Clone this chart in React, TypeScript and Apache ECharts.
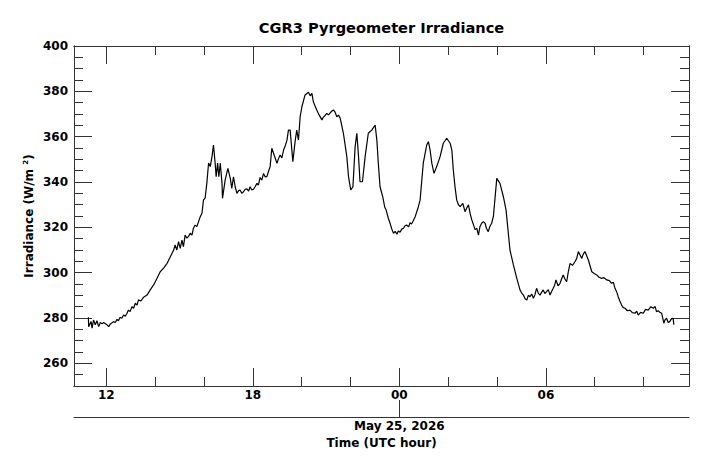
import React, { useEffect, useRef } from "react";
import * as echarts from "echarts";

// Hours since May 24, 2026 00:00 UTC
const timeHours = [
  11.27, 11.28, 11.38, 11.42, 11.48, 11.55, 11.62, 11.69, 11.76, 11.83, 11.89, 12.03, 12.10, 12.17, 12.30, 12.37,
  12.44, 12.50, 12.57, 12.64, 12.71, 12.78, 12.85, 12.91, 12.98, 13.05, 13.12, 13.19, 13.26, 13.32, 13.42, 13.53,
  13.67, 13.80, 13.94, 14.08, 14.21, 14.35, 14.49, 14.60, 14.69, 14.76, 14.82, 14.89, 14.96, 15.03, 15.10, 15.16,
  15.23, 15.30, 15.37, 15.44, 15.51, 15.57, 15.64, 15.71, 15.78, 15.85, 15.92, 15.98, 16.05, 16.12, 16.19, 16.26,
  16.33, 16.39, 16.46, 16.50, 16.56, 16.61, 16.67, 16.74, 16.76, 16.87, 16.98, 17.08, 17.14, 17.21, 17.28, 17.35,
  17.42, 17.48, 17.55, 17.62, 17.69, 17.76, 17.83, 17.89, 17.96, 18.03, 18.10, 18.17, 18.23, 18.30, 18.37, 18.44,
  18.51, 18.58, 18.64, 18.71, 18.78, 18.85, 18.92, 18.99, 19.05, 19.12, 19.19, 19.26, 19.33, 19.40,
  19.46, 19.53, 19.64, 19.74, 19.80, 19.87, 19.94, 20.01, 20.14, 20.28, 20.35, 20.42, 20.48, 20.55, 20.62, 20.72,
  20.83, 20.88, 20.93, 21.03, 21.10, 21.17, 21.23, 21.30, 21.37, 21.44, 21.51, 21.58, 21.71, 21.85, 21.92, 22.01,
  22.10, 22.19, 22.26, 22.33, 22.39, 22.49, 22.60, 22.73, 22.87, 23.01, 23.08, 23.14, 23.21, 23.32, 23.40, 23.46,
  23.55, 23.62, 23.70, 23.76, 23.83, 23.90, 23.96, 24.03, 24.10, 24.17, 24.24, 24.31, 24.38, 24.44, 24.50, 24.55,
  24.65, 24.78, 24.85, 24.98, 25.12, 25.19, 25.26, 25.33, 25.42, 25.53, 25.67, 25.80, 25.94, 26.08, 26.15,
  26.21, 26.28, 26.35, 26.42, 26.49, 26.60, 26.69, 26.76, 26.83, 26.90, 26.97, 27.04, 27.10, 27.17, 27.24, 27.30,
  27.37, 27.44, 27.51, 27.57, 27.64, 27.71, 27.78, 27.85, 27.99, 28.12, 28.26, 28.37, 28.53, 28.67, 28.81, 28.94,
  29.01, 29.08, 29.15, 29.22, 29.28, 29.35, 29.42, 29.49, 29.55, 29.62, 29.69, 29.76, 29.83, 29.89, 29.96,
  30.03, 30.10, 30.17, 30.24, 30.30, 30.36, 30.41, 30.50, 30.58, 30.65, 30.71, 30.78, 30.85, 30.92, 30.99, 31.09,
  31.19, 31.26, 31.33, 31.40, 31.47, 31.53, 31.60, 31.67, 31.74, 31.88, 31.98, 32.08, 32.18, 32.28, 32.38, 32.49,
  32.60, 32.69, 32.76, 32.83, 32.90, 32.96, 33.03, 33.10, 33.17, 33.24, 33.34, 33.44, 33.54, 33.65, 33.72, 33.78,
  33.88, 33.99, 34.08, 34.19, 34.30, 34.40, 34.47, 34.53, 34.60, 34.67, 34.74, 34.83, 34.88, 34.94, 35.01, 35.07,
  35.14, 35.21, 35.24,
];

// Irradiance (W/m^2)
const irradiance = [
  280.3, 276.2, 278.4, 275.5, 279.1, 277.0, 278.8, 276.2, 278.0, 277.4, 278.0, 277.0, 276.2, 277.4, 278.4, 278.0,
  279.4, 278.8, 280.3, 279.9, 281.3, 280.8, 282.1, 283.5, 282.8, 285.0, 284.3, 286.5, 285.7, 288.0, 287.5, 289.2,
  290.1, 292.4, 294.6, 297.5, 300.4, 302.0, 304.1, 306.5, 308.5, 310.0, 312.2, 310.0, 313.7, 310.7, 314.4, 311.5,
  316.6, 315.2, 316.0, 317.4, 316.6, 319.6, 321.0, 320.3, 322.5, 324.7, 326.2, 332.0, 333.0, 339.6, 348.4, 346.8,
  351.2, 356.3, 348.3, 342.3, 348.4, 342.3, 348.3, 339.4, 332.8, 340.9, 346.0, 341.6, 337.2, 342.3, 337.9, 335.0,
  336.2, 336.5, 335.0, 335.7, 336.8, 337.0, 336.0, 337.9, 336.5, 336.8, 338.0, 339.4, 338.6, 342.0, 340.8, 343.8,
  342.2, 342.5, 344.5, 346.8, 354.9, 352.7, 350.5, 348.3, 350.2, 351.9, 350.6, 354.1, 356.0, 358.5,
  362.9, 362.9, 349.0, 358.5, 362.9, 358.5, 368.8, 373.2, 378.4, 379.6, 378.0, 379.1, 375.4, 373.5, 371.8, 369.5,
  367.4, 368.5, 369.0, 370.3, 369.6, 370.5, 371.2, 371.8, 370.8, 368.8, 369.5, 368.1, 361.5, 351.2, 342.3, 336.5,
  337.9, 355.6, 361.5, 351.2, 340.1, 340.1, 351.2, 361.5, 362.9, 365.1, 358.5, 348.3, 337.9, 333.5, 329.0, 327.6,
  324.0, 321.8, 319.0, 317.4, 318.2, 317.0, 318.4, 317.8, 319.2, 319.6, 320.8, 321.0, 320.2, 322.0, 321.5, 322.5,
  324.7, 329.1, 332.0, 348.3, 356.3, 357.8, 354.1, 348.3, 343.8, 346.8, 351.2, 357.1, 359.3, 357.1, 354.1,
  345.3, 337.9, 332.0, 330.0, 329.1, 330.6, 326.9, 328.5, 329.9, 326.0, 323.2, 321.0, 319.0, 319.6, 316.6, 320.3,
  321.8, 322.5, 321.8, 319.5, 318.1, 320.5, 321.8, 324.7, 341.6, 339.4, 333.5, 327.6, 310.0, 303.4, 297.5, 292.4,
  291.0, 290.1, 288.5, 287.9, 290.0, 289.4, 290.6, 288.7, 290.2, 293.1, 291.0, 290.1, 291.4, 292.4, 290.8,
  291.6, 292.5, 290.1, 291.8, 293.1, 294.5, 296.8, 294.2, 295.3, 297.4, 299.0, 297.2, 296.0, 300.5, 304.1, 303.2,
  304.8, 306.2, 309.3, 307.8, 306.3, 308.2, 309.3, 307.5, 305.6, 300.4, 299.6, 299.0, 298.0, 297.5, 297.8, 296.8,
  296.5, 295.3, 295.8, 293.1, 291.5, 289.4, 287.5, 285.7, 284.6, 284.3, 283.2, 283.5, 282.4, 282.1, 283.0, 281.3,
  282.5, 282.1, 283.8, 283.5, 285.0, 284.3, 285.1, 282.8, 283.2, 282.5, 282.1, 277.7, 279.2, 279.9, 278.0, 278.4,
  279.6, 279.9, 277.0,
];

const xMajorTicks = [12, 18, 24, 30];
const xMinorTicks = [14, 16, 20, 22, 26, 28, 32, 34];
const yMajorTicks = [260, 280, 300, 320, 340, 360, 380, 400];
const yMinorTicks = [255, 265, 270, 275, 285, 290, 295, 305, 310, 315, 325, 330, 335, 345, 350, 355, 365, 370, 375, 385, 390, 395];
const dateTick = [24];
const dateLabel = "May 25, 2026";
const titleText = "CGR3 Pyrgeometer Irradiance";
const xTitle = "Time (UTC hour)";

const X_MIN = 10.68;
const X_MAX = 35.86;
const Y_MIN = 250;
const Y_MAX = 400;

const FONT = "DejaVu Sans";
const AX = "#333";

export default function App() {
  const ref = useRef<HTMLDivElement>(null);

  useEffect(() => {
    document.body.style.margin = "0";
    const chart = echarts.init(ref.current!, null, { renderer: "svg" });
    const data = timeHours.map((t, i) => [t, irradiance[i]]);
    const pad = (v: number) => {
      const h = ((v % 24) + 24) % 24;
      return h < 10 ? "0" + h : String(h);
    };
    const lbl = { fontFamily: FONT, fontWeight: "bold" as const, fontSize: 12, color: "#000" };

    const xBase = (extra: any) => ({
      type: "value",
      min: X_MIN,
      max: X_MAX,
      splitLine: { show: false },
      axisLine: { show: true, onZero: false, lineStyle: { color: AX, width: 1 } },
      ...extra,
    });
    const yBase = (extra: any) => ({
      type: "value",
      min: Y_MIN,
      max: Y_MAX,
      splitLine: { show: false },
      axisLine: { show: true, onZero: false, lineStyle: { color: AX, width: 1 } },
      ...extra,
    });

    chart.setOption({
      animation: false,
      backgroundColor: "#fff",
      grid: { left: 74, top: 46, width: 615, height: 340, containLabel: false },
      graphic: [
        {
          type: "text",
          x: 381.5,
          y: 27,
          style: {
            text: titleText,
            fontFamily: FONT,
            fontWeight: "bold",
            fontSize: 14.6,
            fill: "#000",
            textAlign: "center",
            textVerticalAlign: "middle",
          },
        },
      ],
      xAxis: [
        xBase({
          position: "bottom",
          axisTick: { show: true, inside: true, length: 18, customValues: xMajorTicks, lineStyle: { color: AX } },
          axisLabel: { show: true, customValues: xMajorTicks, formatter: (v: number) => pad(v), margin: 3, ...lbl },
        }),
        xBase({
          position: "bottom",
          axisTick: { show: true, inside: true, length: 9, customValues: xMinorTicks, lineStyle: { color: AX } },
          axisLabel: { show: false },
        }),
        xBase({
          position: "top",
          axisTick: { show: true, inside: true, length: 18, customValues: xMajorTicks, lineStyle: { color: AX } },
          axisLabel: { show: false },
        }),
        xBase({
          position: "top",
          axisTick: { show: true, inside: true, length: 9, customValues: xMinorTicks, lineStyle: { color: AX } },
          axisLabel: { show: false },
        }),
        xBase({
          position: "bottom",
          offset: 31,
          axisTick: { show: true, inside: true, length: 17, customValues: dateTick, lineStyle: { color: AX } },
          axisLabel: { show: true, customValues: dateTick, formatter: () => dateLabel, margin: 3, ...lbl },
          name: xTitle,
          nameLocation: "middle",
          nameGap: 20,
          nameMoveOverlap: false,
          nameTextStyle: { ...lbl },
        }),
      ],
      yAxis: [
        yBase({
          position: "left",
          axisTick: { show: true, inside: true, length: 18, customValues: yMajorTicks, lineStyle: { color: AX } },
          axisLabel: { show: true, customValues: yMajorTicks, margin: 6, ...lbl },
          name: "{n|Irradiance (W/m }{s|2}{n|)}",
          nameLocation: "middle",
          nameGap: 38,
          nameRotate: 90,
          nameMoveOverlap: false,
          nameTextStyle: {
            ...lbl,
            rich: {
              n: { fontFamily: FONT, fontWeight: "bold", fontSize: 12, color: "#000", lineHeight: 14 },
              s: { fontFamily: FONT, fontWeight: "bold", fontSize: 7, color: "#000", verticalAlign: "top", lineHeight: 14 },
            },
          },
        }),
        yBase({
          position: "left",
          axisTick: { show: true, inside: true, length: 9, customValues: yMinorTicks, lineStyle: { color: AX } },
          axisLabel: { show: false },
        }),
        yBase({
          position: "right",
          axisTick: { show: true, inside: true, length: 18, customValues: yMajorTicks, lineStyle: { color: AX } },
          axisLabel: { show: false },
        }),
        yBase({
          position: "right",
          axisTick: { show: true, inside: true, length: 9, customValues: yMinorTicks, lineStyle: { color: AX } },
          axisLabel: { show: false },
        }),
      ],
      series: [
        {
          type: "line",
          xAxisIndex: 0,
          yAxisIndex: 0,
          data,
          showSymbol: false,
          symbol: "none",
          lineStyle: { color: "#000", width: 1.2 },
          silent: true,
        },
      ],
    });
    return () => chart.dispose();
  }, []);

  return <div ref={ref} style={{ width: 711, height: 467 }} />;
}
